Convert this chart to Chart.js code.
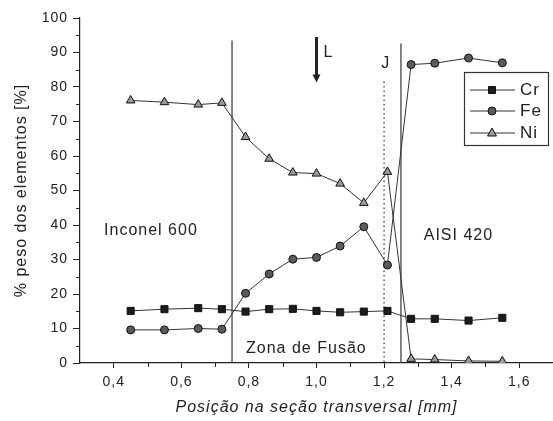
<!DOCTYPE html>
<html>
<head>
<meta charset="utf-8">
<script src="https://cdn.jsdelivr.net/npm/chart.js@4/dist/chart.umd.min.js"></script>
<style>
  html, body { margin: 0; padding: 0; background: #fff; }
  #wrap { width: 553px; height: 421px; }
</style>
</head>
<body>
<div id="wrap"><canvas id="chart" width="553" height="421"></canvas></div>
<script>
// measured positions [mm] and wt% per element
const positions = [0.45, 0.55, 0.65, 0.72, 0.79, 0.86, 0.93, 1.00, 1.07, 1.14, 1.21, 1.28, 1.35, 1.45, 1.55];
const cr = [15.1, 15.6, 15.9, 15.6, 14.9, 15.6, 15.7, 15.1, 14.7, 14.9, 15.1, 12.8, 12.8, 12.3, 13.1];
const fe = [9.6, 9.6, 10.0, 9.8, 20.2, 25.8, 30.1, 30.6, 33.9, 39.5, 28.4, 86.5, 86.9, 88.4, 87.0];
const ni = [76.1, 75.6, 74.9, 75.4, 65.5, 59.2, 55.2, 54.9, 52.0, 46.4, 55.4, 1.2, 1.0, 0.6, 0.5];

const xTicks = [0.4, 0.6, 0.8, 1.0, 1.2, 1.4, 1.6];
const xMinor = [0.5, 0.7, 0.9, 1.1, 1.3, 1.5];
const yTicks = [0, 10, 20, 30, 40, 50, 60, 70, 80, 90, 100];
const yMinor = [5, 15, 25, 35, 45, 55, 65, 75, 85, 95];

// zone boundaries (x) and how high they reach (y)
const boundaryX = [0.75, 1.25];
const boundaryTop = [93.5, 92.6];
const jLineX = 1.2;
const jLineTop = 81.6;

const FONT = "'Liberation Sans', Arial, sans-serif";
const INK = "#222";

function pts(vals) {
  return positions.map((x, i) => ({ x: x, y: vals[i] }));
}

function drawMarker(ctx, kind, x, y) {
  ctx.save();
  ctx.lineWidth = 1;
  ctx.strokeStyle = "#111";
  ctx.beginPath();
  if (kind === "rect") {
    ctx.fillStyle = "#1c1c1c";
    ctx.rect(x - 3.5, y - 3.5, 7, 7);
  } else if (kind === "circle") {
    ctx.fillStyle = "#5a5a5a";
    ctx.arc(x, y, 4, 0, Math.PI * 2);
  } else {
    ctx.fillStyle = "#9a9a9a";
    ctx.moveTo(x, y - 5);
    ctx.lineTo(x + 4.5, y + 3);
    ctx.lineTo(x - 4.5, y + 3);
    ctx.closePath();
  }
  ctx.fill();
  ctx.stroke();
  ctx.restore();
}

// the scan has widely spaced lettering
const spacing = {
  id: "spacing",
  beforeLayout(chart) { chart.ctx.letterSpacing = "1px"; },
  beforeDraw(chart) { chart.ctx.letterSpacing = "1px"; }
};

const decor = {
  id: "decor",
  beforeDatasetsDraw(chart) {
    const { ctx, scales: { x, y } } = chart;
    ctx.save();
    ctx.strokeStyle = "#333";
    ctx.lineWidth = 1.2;
    boundaryX.forEach((bx, i) => {
      ctx.beginPath();
      ctx.moveTo(x.getPixelForValue(bx), y.getPixelForValue(boundaryTop[i]));
      ctx.lineTo(x.getPixelForValue(bx), y.getPixelForValue(0));
      ctx.stroke();
    });
    // dotted J line
    ctx.setLineDash([1.5, 3]);
    ctx.beginPath();
    ctx.moveTo(x.getPixelForValue(jLineX), y.getPixelForValue(jLineTop));
    ctx.lineTo(x.getPixelForValue(jLineX), y.getPixelForValue(0));
    ctx.stroke();
    ctx.setLineDash([]);

    // arrow L
    const ax = x.getPixelForValue(1.0);
    const aTop = y.getPixelForValue(94.5);
    const aTip = y.getPixelForValue(81.3);
    ctx.lineWidth = 3;
    ctx.strokeStyle = "#222";
    ctx.beginPath();
    ctx.moveTo(ax, aTop);
    ctx.lineTo(ax, aTip - 6);
    ctx.stroke();
    ctx.fillStyle = "#222";
    ctx.beginPath();
    ctx.moveTo(ax - 4, aTip - 8);
    ctx.lineTo(ax + 4, aTip - 8);
    ctx.lineTo(ax, aTip);
    ctx.closePath();
    ctx.fill();

    // labels
    ctx.fillStyle = INK;
    ctx.textAlign = "center";
    ctx.textBaseline = "middle";
    ctx.font = "16px " + FONT;
    ctx.letterSpacing = "1px";
    ctx.fillText("Inconel 600", x.getPixelForValue(0.51), y.getPixelForValue(38.5));
    ctx.fillText("AISI 420", x.getPixelForValue(1.42), y.getPixelForValue(36.8));
    ctx.fillText("Zona de Fusão", x.getPixelForValue(0.97), y.getPixelForValue(4.3));
    ctx.fillText("L", ax + 12, y.getPixelForValue(90));
    ctx.fillText("J", x.getPixelForValue(1.205), y.getPixelForValue(86.7));
    ctx.restore();
  },
  afterDraw(chart) {
    const { ctx, scales: { x, y } } = chart;
    ctx.save();
    ctx.strokeStyle = INK;
    ctx.lineWidth = 1;
    const y0 = y.getPixelForValue(0);
    xMinor.forEach(v => {
      const px = Math.round(x.getPixelForValue(v)) + 0.5;
      ctx.beginPath();
      ctx.moveTo(px, y0);
      ctx.lineTo(px, y0 + 4);
      ctx.stroke();
    });
    const x0 = x.left;
    yMinor.forEach(v => {
      const py = Math.round(y.getPixelForValue(v)) + 0.5;
      ctx.beginPath();
      ctx.moveTo(x0, py);
      ctx.lineTo(x0 - 4, py);
      ctx.stroke();
    });

    // legend box
    ctx.strokeStyle = "#333";
    ctx.lineWidth = 1.2;
    ctx.fillStyle = "#fff";
    ctx.fillRect(464.5, 72.5, 84, 73);
    ctx.strokeRect(464.5, 72.5, 84, 73);
    const entries = [["Cr", "rect", 90], ["Fe", "circle", 111], ["Ni", "triangle", 133]];
    ctx.font = "17px " + FONT;
    ctx.letterSpacing = "1px";
    ctx.textAlign = "left";
    ctx.textBaseline = "middle";
    entries.forEach(([name, kind, ly]) => {
      ctx.strokeStyle = "#333";
      ctx.lineWidth = 1;
      ctx.beginPath();
      ctx.moveTo(470, ly);
      ctx.lineTo(515, ly);
      ctx.stroke();
      drawMarker(ctx, kind, 492, ly);
      ctx.fillStyle = INK;
      ctx.fillText(name, 520, ly);
    });
    ctx.restore();
  }
};

const lineStyle = { borderColor: "#333", borderWidth: 1, pointBorderColor: "#111", pointBorderWidth: 1, tension: 0 };

new Chart(document.getElementById("chart"), {
  type: "line",
  data: {
    datasets: [
      Object.assign({ label: "Cr", data: pts(cr), pointStyle: "rect", pointRadius: 5, pointBackgroundColor: "#1c1c1c" }, lineStyle),
      Object.assign({ label: "Fe", data: pts(fe), pointStyle: "circle", pointRadius: 4, pointBackgroundColor: "#5a5a5a" }, lineStyle),
      Object.assign({ label: "Ni", data: pts(ni), pointStyle: "triangle", pointRadius: 5, pointBackgroundColor: "#9a9a9a" }, lineStyle)
    ]
  },
  options: {
    responsive: false,
    animation: false,
    layout: { autoPadding: false, padding: { top: 18, right: 0, left: 0, bottom: 0 } },
    plugins: { legend: { display: false }, tooltip: { enabled: false } },
    scales: {
      x: {
        type: "linear",
        min: 0.3,
        max: 1.7,
        afterBuildTicks: s => { s.ticks = xTicks.map(v => ({ value: v })); },
        afterFit: s => { s.height = 58; s.paddingLeft = 0; s.paddingRight = 0; },
        border: { color: INK, width: 1.2 },
        grid: { drawOnChartArea: false, drawTicks: true, tickLength: 5, color: INK },
        ticks: {
          color: INK,
          font: { family: FONT, size: 14 },
          padding: 6,
          maxRotation: 0,
          callback: v => v.toFixed(1).replace(".", ",")
        },
        title: {
          display: true,
          text: "Posição na seção transversal [mm]",
          color: INK,
          font: { family: FONT, size: 16, style: "italic" },
          padding: { top: 0, bottom: 4 }
        }
      },
      y: {
        min: 0,
        max: 100,
        afterBuildTicks: s => { s.ticks = yTicks.map(v => ({ value: v })); },
        afterFit: s => { s.width = 80; },
        border: { color: INK, width: 1.2 },
        grid: { drawOnChartArea: false, drawTicks: true, tickLength: 7, color: INK },
        ticks: { color: INK, font: { family: FONT, size: 14 }, padding: 5 },
        title: {
          display: true,
          text: "% peso dos elementos [%]",
          color: INK,
          font: { family: FONT, size: 16 },
          padding: { top: 12, bottom: 0 }
        }
      }
    }
  },
  plugins: [spacing, decor]
});
</script>
</body>
</html>
